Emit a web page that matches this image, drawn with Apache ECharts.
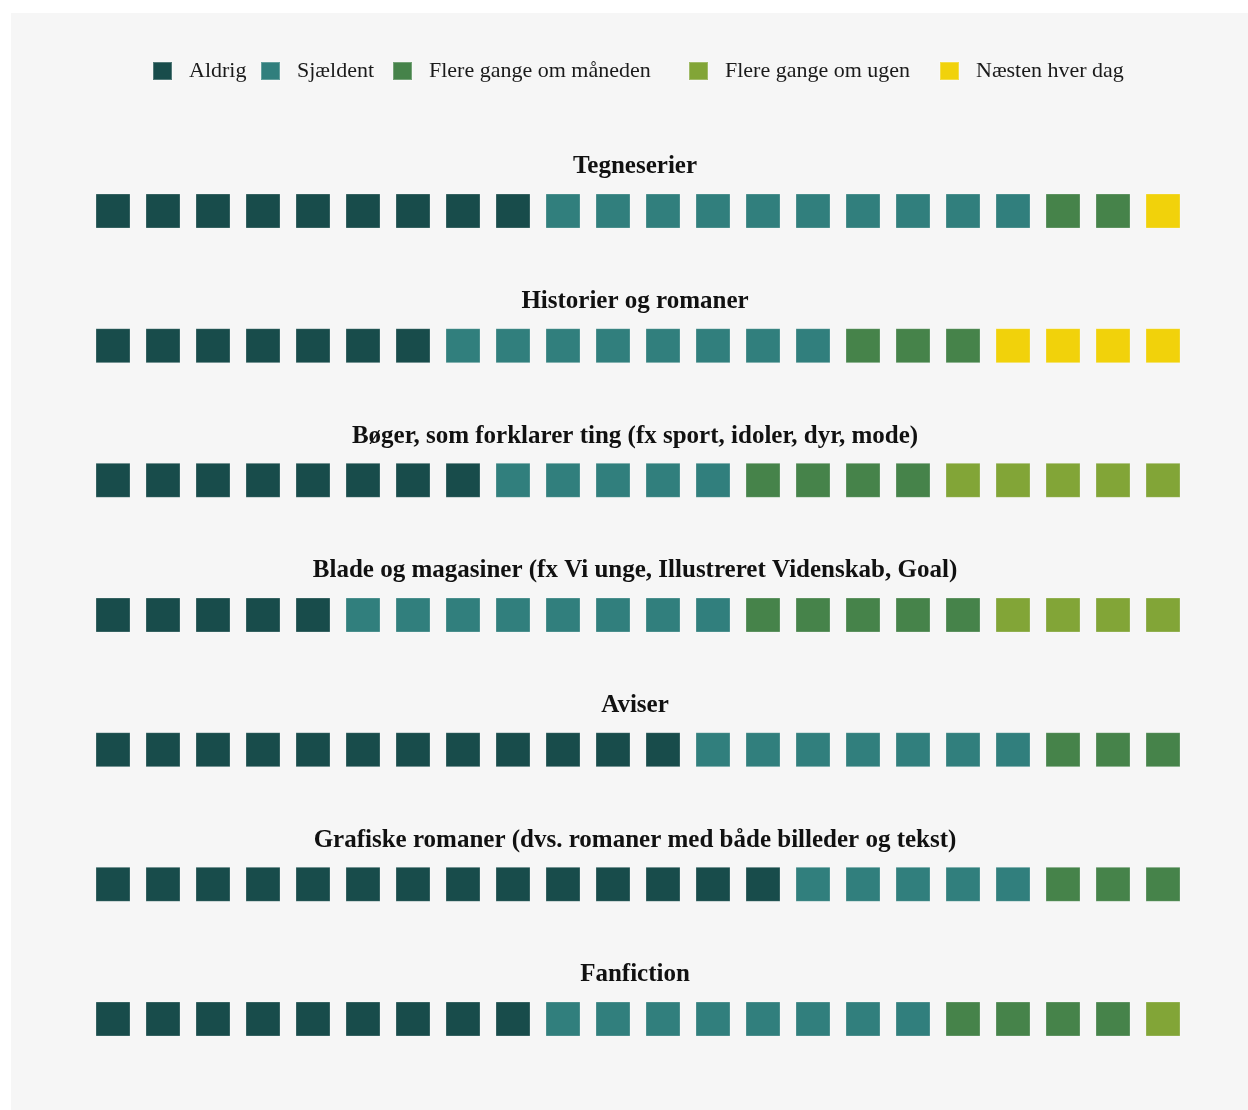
<!DOCTYPE html>
<html>
<head>
<meta charset="utf-8">
<script src="https://cdn.jsdelivr.net/npm/echarts@6/dist/echarts.min.js"></script>
<style>html,body{margin:0;padding:0;background:#fff}#c{width:1248px;height:1110px}</style>
</head>
<body>
<div id="c"></div>
<script>
const categories = ['Aldrig', 'Sjældent', 'Flere gange om måneden', 'Flere gange om ugen', 'Næsten hver dag'];
const rowTitles = [
  'Tegneserier',
  'Historier og romaner',
  'Bøger, som forklarer ting (fx sport, idoler, dyr, mode)',
  'Blade og magasiner (fx Vi unge, Illustreret Videnskab, Goal)',
  'Aviser',
  'Grafiske romaner (dvs. romaner med både billeder og tekst)',
  'Fanfiction'
];
const aldrig    = [9, 7, 8, 5, 12, 14, 9];
const sjaeldent = [10, 8, 5, 8, 7, 5, 8];
const maaned    = [2, 3, 4, 5, 3, 3, 4];
const ugen      = [0, 0, 5, 4, 0, 0, 1];
const dag       = [1, 4, 0, 0, 0, 0, 0];
const colors = ['#184c4b', '#317f7d', '#46834a', '#82a537', '#f1d20b'];
const legendLeft = [152, 260, 392, 688, 939];

const counts = [aldrig, sjaeldent, maaned, ugen, dag];
const totalCells = 22;
const nRows = rowTitles.length;

const seriesPoints = categories.map(() => []);
for (let r = 0; r < nRows; r++) {
  let pos = 0;
  for (let c = 0; c < categories.length; c++) {
    for (let k = 0; k < counts[c][r]; k++) {
      seriesPoints[c].push([pos + 0.5, r + 0.5]);
      pos++;
    }
  }
}

const series = categories.map((name, c) => ({
  name: name,
  type: 'scatter',
  symbol: 'rect',
  symbolSize: 34,
  itemStyle: { color: colors[c], opacity: 1, borderColor: 'rgba(255,255,255,0.25)', borderWidth: 1 },
  emphasis: { disabled: true },
  data: seriesPoints[c]
}));

series.push({
  name: 'titles',
  type: 'scatter',
  symbolSize: 0,
  silent: true,
  itemStyle: { opacity: 1 },
  data: rowTitles.map((t, r) => ({ value: [totalCells / 2, r + 0.5], name: t })),
  label: {
    show: true,
    position: 'inside',
    offset: [-3, -44],
    formatter: p => p.name,
    fontFamily: 'Liberation Serif',
    fontWeight: 'bold',
    fontSize: 25,
    color: '#111111',
    opacity: 1,
    textBorderWidth: 0
  }
});

const legends = categories.map((name, c) => ({
  data: [name],
  left: legendLeft[c],
  top: 60,
  padding: 0,
  icon: 'rect',
  itemWidth: 19,
  itemHeight: 18,
  selectedMode: false,
  textStyle: {
    fontFamily: 'Liberation Serif',
    fontSize: 22,
    color: '#1a1a1a',
    padding: [0, 0, 0, 12]
  }
}));

const chart = echarts.init(document.getElementById('c'));
chart.setOption({
  backgroundColor: '#ffffff',
  animation: false,
  graphic: [{
    type: 'rect',
    z: -10,
    silent: true,
    shape: { x: 11, y: 13, width: 1237, height: 1097 },
    style: { fill: '#f6f6f6' }
  }],
  legend: legends,
  grid: { left: 88, right: 60, top: 143.67, bottom: 23.67 },
  xAxis: { type: 'value', min: 0, max: totalCells, show: false },
  yAxis: { type: 'value', min: 0, max: nRows, inverse: true, show: false },
  series: series
});
</script>
</body>
</html>
